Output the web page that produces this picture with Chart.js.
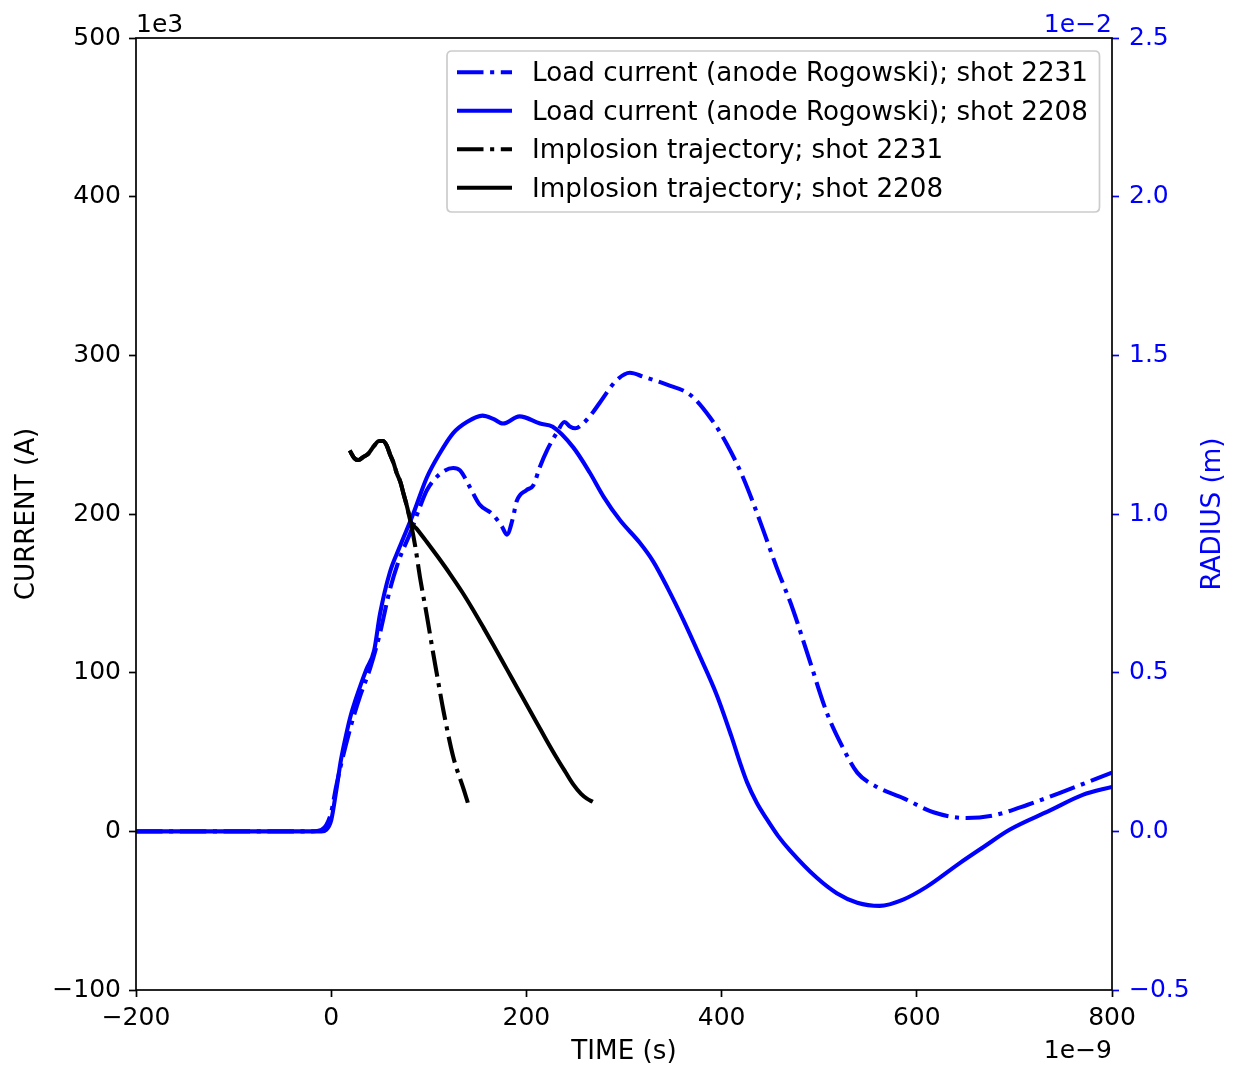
<!DOCTYPE html>
<html><head><meta charset="utf-8">
<script src="https://cdn.jsdelivr.net/npm/chart.js@4/dist/chart.umd.min.js"></script>
<style>html,body{margin:0;padding:0;background:#fff;}</style>
</head><body>
<canvas id="c" width="1233" height="1068" style="display:block;width:1233px;height:1068px"></canvas>
<script>
// ---- data (time in ns, current in kA, radius in 1e-2 m) ----
const xTicks = [-200, 0, 200, 400, 600, 800];
const yTicks = [-100, 0, 100, 200, 300, 400, 500];
const y2Ticks = [-0.5, 0.0, 0.5, 1.0, 1.5, 2.0, 2.5];

const seriesLabels = [
  'Load current (anode Rogowski); shot 2231',
  'Load current (anode Rogowski); shot 2208',
  'Implosion trajectory; shot 2231',
  'Implosion trajectory; shot 2208'
];

const t2231 = [-200,-150,-100,-50,-20,-10,-5,0,5,10,20,30,40,50,60,70,81,90,98,111,125,132,142,152,165,175,180,186,190,200,207,214,221,231,239,245,250,258,268,275,292,306,320,344,368,388,405,422,439,456,473,490,508,524,539,559,586,617,651,678,713,754,800];
const i2231 = [0,0,0,0,0,1,4,12,28,42,66,86,103,125,152,172,188,203,215,225,229,227.5,217,206,200,192,187,197,208,215,218,230,240,251,258,255,254,257,264,270,284,289,286.5,281.5,275,261,244.5,223,196,167,140,108,74.5,53,37,28,21,12,8.4,10,16.6,26,37];

const t2208 = [-200,-150,-100,-50,-20,-10,-5,0,5,10,15,20,25,30,36,44,50,60,70,84,98,111,125,139,155,166,176,193,214,227,248,265,279,296,316,330,345,361,378,395,410,419,426,436,446,458,470,497,518,539,562,586,610,644,668,695,736,770,800];
const i2208 = [0,0,0,0,0,0,1,7,25,45,60,73,83,92,102,114,137,163,179,200,223,238,251,258,262,260,257,261.5,257,255,242,226,211,196,182,170,153,133,110,86,60,43,31,18,8,-3,-12,-29,-39,-45,-47,-43,-35,-20,-10,1,13,23,28];

const tTraj2231 = [19,24,28,33,38,44,49,53,57,60,64,67,71,74,78,81,86,91,98,104,108,115,125,136,140];
const rTraj2231 = [1.20,1.175,1.17,1.18,1.19,1.215,1.23,1.23,1.215,1.19,1.16,1.13,1.10,1.065,1.02,0.98,0.90,0.80,0.68,0.57,0.50,0.38,0.235,0.13,0.09];

const tTraj2208 = [19,24,28,33,38,44,49,53,57,60,64,67,71,74,78,81,88,98,110,122,134,145,156,166,176,185,195,211,221,231,240,248,256,262,268];
const rTraj2208 = [1.20,1.175,1.17,1.18,1.19,1.215,1.23,1.23,1.215,1.19,1.16,1.13,1.10,1.065,1.02,0.98,0.952,0.912,0.862,0.81,0.755,0.70,0.642,0.588,0.533,0.483,0.428,0.34,0.285,0.232,0.187,0.148,0.118,0.103,0.093];

// ---- styles ----
const BLUE = '#0000ff';
const LW = 4.1;
const DASHDOT = [26.5, 6.6, 4.1, 6.6];
const FONT = 'DejaVu Sans';
const FS = 25;      // tick labels, offset texts
const FS_L = 26.2;  // legend and axis titles

const pts = (xs, ys) => xs.map((x, i) => ({x, y: ys[i]}));
const fmt = v => String(v).replace('-', '\u2212');

const datasets = [
  {label: seriesLabels[0], data: pts(t2231, i2231), yAxisID: 'y', borderColor: BLUE, borderDash: DASHDOT, order: 3},
  {label: seriesLabels[1], data: pts(t2208, i2208), yAxisID: 'y', borderColor: BLUE, borderDash: [], order: 2},
  {label: seriesLabels[2], data: pts(tTraj2231, rTraj2231), yAxisID: 'y2', borderColor: '#000', borderDash: DASHDOT, order: 1},
  {label: seriesLabels[3], data: pts(tTraj2208, rTraj2208), yAxisID: 'y2', borderColor: '#000', borderDash: [], order: 0}
].map(d => Object.assign({
  borderWidth: LW, pointRadius: 0, fill: false, cubicInterpolationMode: 'monotone', borderCapStyle: 'butt'
}, d));

const decor = {
  id: 'decor',
  beforeDraw(chart) {
    const ctx = chart.ctx;
    ctx.save(); ctx.fillStyle = '#fff'; ctx.fillRect(0, 0, chart.width, chart.height); ctx.restore();
  },
  afterDraw(chart) {
    const ctx = chart.ctx, a = chart.chartArea;
    ctx.save();
    // spines
    ctx.strokeStyle = '#000'; ctx.lineWidth = 1.7;
    ctx.strokeRect(a.left, a.top, a.right - a.left, a.bottom - a.top);
    // offset (exponent) texts
    ctx.font = FS + 'px "' + FONT + '"';
    ctx.fillStyle = '#000'; ctx.textBaseline = 'alphabetic';
    ctx.textAlign = 'left'; ctx.fillText('1e3', a.left, 31.5);
    ctx.fillStyle = BLUE; ctx.textAlign = 'right'; ctx.fillText('1e\u22122', a.right, 31.5);
    ctx.fillStyle = '#000'; ctx.fillText('1e\u22129', a.right, 1058);
    // axis titles
    ctx.font = FS_L + 'px "' + FONT + '"';
    ctx.textAlign = 'center';
    ctx.fillText('TIME (s)', (a.left + a.right) / 2, 1059);
    ctx.save(); ctx.translate(33.5, (a.top + a.bottom) / 2); ctx.rotate(-Math.PI / 2);
    ctx.fillText('CURRENT (A)', 0, 0); ctx.restore();
    ctx.save(); ctx.translate(1220, (a.top + a.bottom) / 2); ctx.rotate(-Math.PI / 2);
    ctx.fillStyle = BLUE; ctx.fillText('RADIUS (m)', 0, 0); ctx.restore();
    // legend
    const bx = 447, by = 51, bw = 1099.5 - 447, bh = 161, r = 5;
    ctx.beginPath();
    ctx.moveTo(bx + r, by); ctx.lineTo(bx + bw - r, by); ctx.quadraticCurveTo(bx + bw, by, bx + bw, by + r);
    ctx.lineTo(bx + bw, by + bh - r); ctx.quadraticCurveTo(bx + bw, by + bh, bx + bw - r, by + bh);
    ctx.lineTo(bx + r, by + bh); ctx.quadraticCurveTo(bx, by + bh, bx, by + bh - r);
    ctx.lineTo(bx, by + r); ctx.quadraticCurveTo(bx, by, bx + r, by); ctx.closePath();
    ctx.fillStyle = 'rgba(255,255,255,0.8)'; ctx.fill();
    ctx.strokeStyle = '#cccccc'; ctx.lineWidth = 1.7; ctx.stroke();
    chart.data.datasets.forEach((ds, i) => {
      const yy = 72.3 + i * 38.5;
      ctx.save();
      ctx.strokeStyle = ds.borderColor; ctx.lineWidth = ds.borderWidth; ctx.lineCap = 'butt';
      ctx.setLineDash(ds.borderDash || []);
      ctx.beginPath(); ctx.moveTo(457, yy); ctx.lineTo(512, yy); ctx.stroke();
      ctx.restore();
      ctx.fillStyle = '#000'; ctx.textAlign = 'left'; ctx.textBaseline = 'alphabetic';
      ctx.fillText(ds.label, 532, yy + 8.9);
    });
    ctx.restore();
  }
};

new Chart(document.getElementById('c'), {
  type: 'line',
  data: {datasets},
  options: {
    responsive: false, animation: false, devicePixelRatio: 1,
    layout: {padding: {top: 38, left: 0, right: 0, bottom: 0}},
    plugins: {legend: {display: false}, tooltip: {enabled: false}},
    font: {family: FONT, size: FS},
    scales: {
      x: {
        type: 'linear', position: 'bottom', min: -200, max: 800,
        afterFit: s => { s.height = 78; },
        afterBuildTicks: s => { s.ticks = xTicks.map(v => ({value: v})); },
        ticks: {color: '#000', padding: 6, autoSkip: false, maxRotation: 0, font: {family: FONT, size: FS}, callback: v => fmt(v)},
        grid: {drawOnChartArea: false, drawTicks: true, tickLength: 7, tickWidth: 1.7, tickColor: '#000'},
        border: {display: false}
      },
      y: {
        type: 'linear', position: 'left', min: -100, max: 500,
        afterFit: s => { s.width = 136; },
        afterBuildTicks: s => { s.ticks = yTicks.map(v => ({value: v})); },
        ticks: {color: '#000', padding: 8, autoSkip: false, font: {family: FONT, size: FS}, callback: v => fmt(v)},
        grid: {drawOnChartArea: false, drawTicks: true, tickLength: 7, tickWidth: 1.7, tickColor: '#000'},
        border: {display: false}
      },
      y2: {
        type: 'linear', position: 'right', min: -0.5, max: 2.5,
        afterFit: s => { s.width = 121; },
        afterBuildTicks: s => { s.ticks = y2Ticks.map(v => ({value: v})); },
        ticks: {color: BLUE, padding: 10, autoSkip: false, font: {family: FONT, size: FS}, callback: v => fmt(Number(v).toFixed(1))},
        grid: {drawOnChartArea: false, drawTicks: true, tickLength: 7, tickWidth: 1.7, tickColor: BLUE},
        border: {display: false}
      }
    }
  },
  plugins: [decor]
});
</script>
</body></html>
